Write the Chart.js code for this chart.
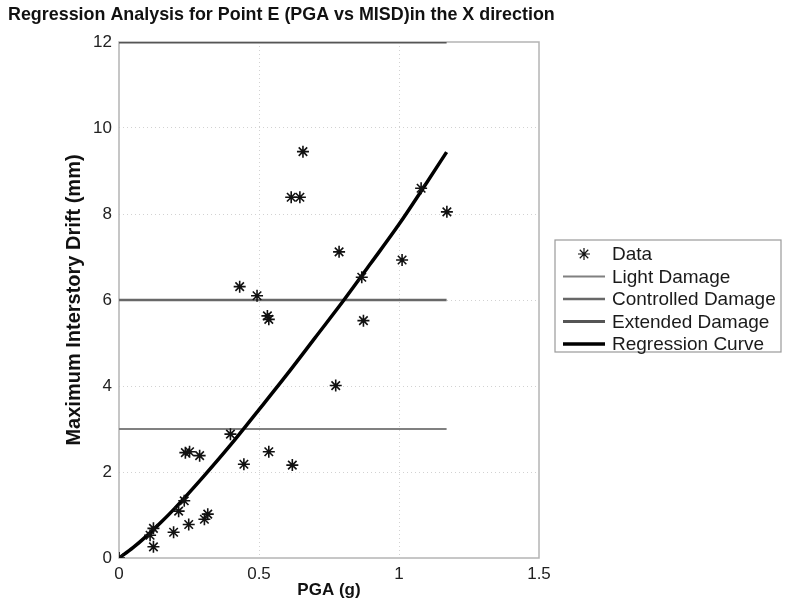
<!DOCTYPE html>
<html>
<head>
<meta charset="utf-8">
<script src="https://cdn.jsdelivr.net/npm/chart.js@4/dist/chart.umd.min.js"></script>
<style>
  html, body { margin: 0; padding: 0; background: #fff; }
  #wrap { width: 787px; height: 613px; }
</style>
</head>
<body>
<div id="wrap"><canvas id="regChart" width="787" height="613"></canvas></div>
<script>
// Measured data (PGA in g, drift in mm)
const pgaData = [0, 0.111, 0.123, 0.123, 0.195, 0.213, 0.233, 0.237, 0.252, 0.249, 0.288,
  0.305, 0.317, 0.398, 0.431, 0.446, 0.493, 0.530, 0.535, 0.535, 0.615, 0.619, 0.646,
  0.657, 0.774, 0.786, 0.867, 0.873, 1.011, 1.079, 1.171];
const driftData = [0, 0.53, 0.69, 0.26, 0.60, 1.09, 1.33, 2.45, 2.47, 0.78, 2.38,
  0.90, 1.02, 2.88, 6.31, 2.18, 6.10, 5.63, 5.55, 2.47, 8.39, 2.16, 8.39,
  9.45, 4.01, 7.12, 6.53, 5.52, 6.93, 8.60, 8.05];

// Regression curve
const curvePga = [0, 0.05, 0.1, 0.15, 0.2, 0.3, 0.4, 0.5, 0.6, 0.7, 0.8, 0.9, 1.0, 1.1, 1.17];
const curveDrift = [0, 0.24, 0.52, 0.83, 1.16, 1.88, 2.64, 3.45, 4.27, 5.12, 5.97, 6.86, 7.76, 8.74, 9.44];

// Damage thresholds
const limitNames = ['Light Damage', 'Controlled Damage', 'Extended Damage'];
const limitValues = [3, 6, 12];
const limitEndPga = 1.17;

// Tick labels
const xTickLabels = ['0', '0.5', '1', '1.5'];
const yTickLabels = ['0', '2', '4', '6', '8', '10', '12'];

const chartTitle = 'Regression Analysis for Point E (PGA vs MISD)in the X direction';

const FONT = "'Liberation Sans', Arial, Helvetica, sans-serif";

const limitStyles = [
  { color: '#808080', width: 2 },
  { color: '#686868', width: 2.5 },
  { color: '#555555', width: 3 },
];

const datasets = [
  {
    label: 'Data',
    data: pgaData.map((x, i) => ({ x: x, y: driftData[i] })),
    pointStyle: 'star',
    pointRadius: 6,
    pointBorderWidth: 1.6,
    borderColor: '#111',
    backgroundColor: '#111',
    showLine: false,
    order: 0,
  },
];

limitNames.forEach((name, i) => {
  datasets.push({
    label: name,
    data: [{ x: 0, y: limitValues[i] }, { x: limitEndPga, y: limitValues[i] }],
    borderColor: limitStyles[i].color,
    borderWidth: limitStyles[i].width,
    pointRadius: 0,
    showLine: true,
    order: 2,
  });
});

datasets.push({
  label: 'Regression Curve',
  data: curvePga.map((x, i) => ({ x: x, y: curveDrift[i] })),
  borderColor: '#000',
  borderWidth: 3.5,
  pointRadius: 0,
  showLine: true,
  cubicInterpolationMode: 'monotone',
  order: 1,
});

// Plot frame (all four sides)
const framePlugin = {
  id: 'frame',
  beforeDatasetsDraw(chart) {
    const { ctx, chartArea: a } = chart;
    ctx.save();
    ctx.strokeStyle = '#b4b4b4';
    ctx.lineWidth = 1.5;
    ctx.strokeRect(a.left, a.top, a.right - a.left, a.bottom - a.top);
    ctx.restore();
  },
};

// Title is wider than the plot column, so draw it free of the layout box
const titlePlugin = {
  id: 'wideTitle',
  afterDraw(chart) {
    const { ctx } = chart;
    ctx.save();
    ctx.font = 'bold 17.9px ' + FONT;
    ctx.fillStyle = '#111';
    ctx.textBaseline = 'middle';
    ctx.textAlign = 'left';
    ctx.fillText(chartTitle, 8, 15);
    ctx.restore();
  },
};

// MATLAB-style boxed legend on the right
const boxLegendPlugin = {
  id: 'boxLegend',
  afterDraw(chart) {
    const { ctx } = chart;
    const box = { left: 555, top: 240, width: 226, height: 112 };
    const rowGap = 22.5;
    ctx.save();
    ctx.strokeStyle = '#9a9a9a';
    ctx.lineWidth = 1.2;
    ctx.strokeRect(box.left, box.top, box.width, box.height);
    ctx.font = '19px ' + FONT;
    ctx.textBaseline = 'middle';
    ctx.textAlign = 'left';
    chart.data.datasets.forEach((ds, i) => {
      const y = box.top + 14 + i * rowGap;
      const x0 = box.left + 8;
      const x1 = box.left + 50;
      if (ds.showLine) {
        ctx.strokeStyle = ds.borderColor;
        ctx.lineWidth = ds.borderWidth;
        ctx.beginPath();
        ctx.moveTo(x0, y);
        ctx.lineTo(x1, y);
        ctx.stroke();
      } else {
        ctx.strokeStyle = ds.borderColor;
        ctx.fillStyle = ds.backgroundColor;
        Chart.helpers.drawPoint(ctx, {
          pointStyle: 'star', radius: 6, rotation: 0, borderWidth: 1.6,
        }, (x0 + x1) / 2, y);
      }
      ctx.fillStyle = '#1a1a1a';
      ctx.fillText(ds.label, box.left + 57, y + 1);
    });
    ctx.restore();
  },
};

const edgeTransparent = (lo, hi) => (c) =>
  (c.tick && (c.tick.value === lo || c.tick.value === hi)) ? 'rgba(0,0,0,0)' : '#d2d2d2';

const config = {
  type: 'scatter',
  data: { datasets: datasets },
  options: {
    responsive: false,
    animation: false,
    layout: { padding: { left: 8, right: 248, top: 42, bottom: 0 } },
    plugins: {
      legend: { display: false },
      tooltip: { enabled: false },
      title: { display: false },
    },
    scales: {
      x: {
        type: 'linear',
        min: 0,
        max: 1.5,
        afterBuildTicks(scale) {
          scale.ticks = xTickLabels.map((t) => ({ value: parseFloat(t) }));
        },
        afterFit(scale) { scale.height = 55; },
        ticks: {
          color: '#222',
          font: { family: FONT, size: 17 },
          padding: 6,
          maxRotation: 0,
          callback: (v, i) => xTickLabels[i],
        },
        grid: { color: edgeTransparent(0, 1.5), drawTicks: false, lineWidth: 1 },
        border: { display: false, dash: [1, 3] },
        title: {
          display: true,
          text: 'PGA (g)',
          color: '#111',
          font: { family: FONT, size: 17, weight: 'bold' },
          padding: { top: 0, bottom: 12 },
        },
      },
      y: {
        type: 'linear',
        min: 0,
        max: 12,
        afterBuildTicks(scale) {
          scale.ticks = yTickLabels.map((t) => ({ value: parseFloat(t) }));
        },
        afterFit(scale) { scale.width = 111; },
        ticks: {
          color: '#222',
          font: { family: FONT, size: 17 },
          padding: 7,
          callback: (v, i) => yTickLabels[i],
        },
        grid: { color: edgeTransparent(0, 12), drawTicks: false, lineWidth: 1 },
        border: { display: false, dash: [1, 3] },
        title: {
          display: true,
          text: 'Maximum Interstory Drift (mm)',
          color: '#111',
          font: { family: FONT, size: 20, weight: 'bold' },
          padding: { top: 54, bottom: 0 },
        },
      },
    },
  },
  plugins: [framePlugin, titlePlugin, boxLegendPlugin],
};

new Chart(document.getElementById('regChart'), config);
</script>
</body>
</html>
